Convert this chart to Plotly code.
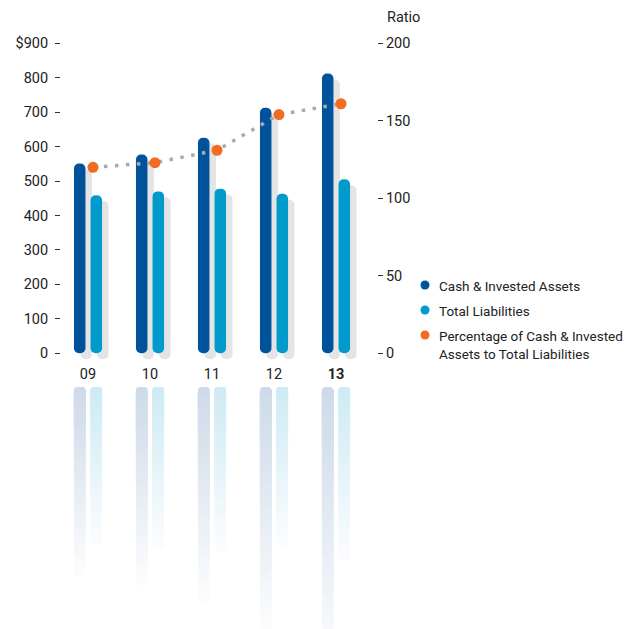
import plotly.graph_objects as go

# ---------------- data ----------------
years = ["09", "10", "11", "12", "13"]
assets = [551, 577, 626, 713, 812]          # Cash & Invested Assets ($M)
liabilities = [459, 470, 478, 463, 505]     # Total Liabilities ($M)
ratio = [120, 123, 131, 154, 161]           # Percentage ratio

left_ticks = [0, 100, 200, 300, 400, 500, 600, 700, 800, 900]
left_labels = ["0", "100", "200", "300", "400", "500", "600", "700", "800", "$900"]
right_ticks = [0, 50, 100, 150, 200]

# ---------------- styling ----------------
W, H = 644, 629
L_PX, R_PX = 61, 377
TOP_PX, ZERO_PX = 43.3, 353.3
PPU = (ZERO_PX - TOP_PX) / 900.0
YMIN = -30
BOT_PX = ZERO_PX - YMIN * PPU
REF_TOP = 387
CAT_SP = 62.0
X0_PX = 88.0
xr = [-(X0_PX - L_PX) / CAT_SP, -(X0_PX - L_PX) / CAT_SP + (R_PX - L_PX) / CAT_SP]

DARK = "#00539b"
LIGHT = "#009bcc"
ORANGE = "#f26b21"
SHADOW = "#e4e4e4"
FONT = "Roboto"
TXT = "#222222"

bw = 11.5 / CAT_SP
off_d = -8.3 / CAT_SP
off_l = 8.3 / CAT_SP
sh_dx = 6.5 / CAT_SP
sh_dy = 17

xs = list(range(len(years)))
fig = go.Figure()

def rbar(vals, offset, color, base_shift=0):
    # explicit base -> both ends of the bar get rounded
    fig.add_trace(go.Bar(x=xs, y=list(vals), base=[base_shift] * len(vals),
                         width=bw, offset=offset - bw / 2,
                         marker=dict(color=color, cornerradius="50%", line_width=0),
                         showlegend=False, hoverinfo="skip"))

# shadows
rbar(assets, off_d + sh_dx, SHADOW, base_shift=-sh_dy)
rbar(liabilities, off_l + sh_dx, SHADOW, base_shift=-sh_dy)
# bars
rbar(assets, off_d, DARK)
rbar(liabilities, off_l, LIGHT)

# reflections (gradient approximated by stacked overlay bars)
def mix(c1, c2, t):
    return "rgb(%d,%d,%d)" % tuple(round(a + (b - a) * t) for a, b in zip(c1, c2))

N = 28
for vals, offset, ctop in [(assets, off_d, (204, 217, 231)), (liabilities, off_l, (204, 234, 243))]:
    cbot = (251, 252, 254)
    for j in range(N):
        frac = (N - j) / N
        fig.add_trace(go.Bar(x=xs, y=[v * frac for v in vals], base=[0] * len(vals),
                             width=bw, offset=offset - bw / 2,
                             marker=dict(color=mix(ctop, cbot, frac), cornerradius="50%", line_width=0),
                             showlegend=False, hoverinfo="skip", yaxis="y3"))

# ratio line
rx = [x + 5 / CAT_SP for x in xs]
fig.add_trace(go.Scatter(x=rx, y=ratio, yaxis="y2", mode="lines",
                         line=dict(color="#aaaaaa", width=3.5, dash="3.5px,7.5px"),
                         showlegend=False, hoverinfo="skip"))
fig.add_trace(go.Scatter(x=rx, y=ratio, yaxis="y2", mode="markers",
                         marker=dict(color=ORANGE, size=11, line_width=0),
                         showlegend=False, hoverinfo="skip"))

def py(p):
    return 1 - p / H

def pxx(p):
    return (p - L_PX) / (R_PX - L_PX)

fig.update_layout(
    width=W, height=H,
    margin=dict(l=L_PX, r=W - R_PX, t=0, b=0, autoexpand=False),
    paper_bgcolor="white", plot_bgcolor="rgba(0,0,0,0)",
    barmode="overlay", showlegend=False,
    font=dict(family=FONT, size=14, color=TXT),
    xaxis=dict(range=xr, tickmode="array", tickvals=xs,
               ticktext=[("<b>%s</b>" % y if i == len(years) - 1 else y) for i, y in enumerate(years)],
               showgrid=False, zeroline=False, showline=False, ticks="", anchor="y",
               tickfont=dict(size=14.5, color=TXT), automargin=False),
    yaxis=dict(domain=[py(BOT_PX), py(TOP_PX)], range=[YMIN, 900], tickmode="array",
               tickvals=left_ticks, ticktext=left_labels, ticks="outside", ticklen=5,
               tickcolor="#333333", tickwidth=1, showgrid=False, zeroline=False, showline=False,
               ticklabelstandoff=4, automargin=False, tickfont=dict(size=14.5)),
    yaxis2=dict(overlaying="y", side="right", range=[YMIN * 200 / 900, 200], tickmode="array",
                tickvals=right_ticks, ticks="outside", ticklen=5, tickcolor="#333333", tickwidth=1,
                showgrid=False, zeroline=False, showline=False, anchor="x", automargin=False,
                tickfont=dict(size=14.5)),
    yaxis3=dict(domain=[0, py(REF_TOP)], range=[(H - REF_TOP) / PPU, 0], visible=False, anchor="x"),
)

# axis title "Ratio"
fig.add_annotation(x=pxx(385), y=py(18), xref="paper", yref="paper", text="Ratio",
                   showarrow=False, xanchor="left", yanchor="middle", font=dict(size=14.5, color=TXT))

# legend (manual)
leg = [("Cash & Invested Assets", DARK, 285),
       ("Total Liabilities", LIGHT, 310),
       ("Percentage of Cash & Invested<br>Assets to Total Liabilities", ORANGE, 335)]
r = 4.5
for text, col, yc in leg:
    fig.add_shape(type="circle", xref="paper", yref="paper",
                  x0=pxx(425 - r), x1=pxx(425 + r), y0=py(yc + r), y1=py(yc - r),
                  fillcolor=col, line_width=0)
    fig.add_annotation(x=pxx(437), y=py(yc - 9), xref="paper", yref="paper", text=text,
                       showarrow=False, xanchor="left", yanchor="top", align="left",
                       font=dict(size=13.5, color=TXT))

fig.write_html("out.html")
